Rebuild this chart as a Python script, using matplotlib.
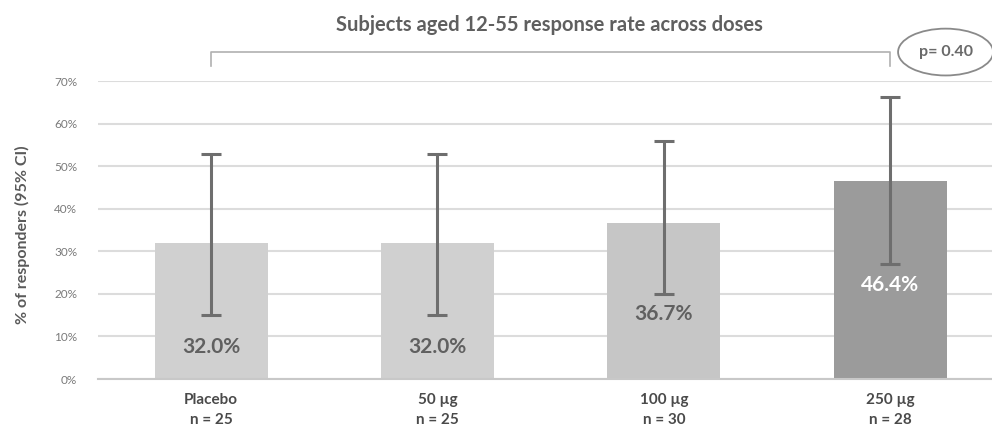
import matplotlib
matplotlib.use("Agg")
import matplotlib.pyplot as plt
from matplotlib.patches import Ellipse

categories = ["Placebo", "50 µg", "100 µg", "250 µg"]
n_labels = ["n = 25", "n = 25", "n = 30", "n = 28"]
rates = [32.0, 32.0, 36.7, 46.4]
ci_low = [15.1, 15.1, 20.0, 27.0]
ci_high = [52.8, 52.8, 55.9, 66.2]
label_y = [7.4, 7.4, 15.3, 22.0]
bar_colors = ["#d0d0d0", "#d0d0d0", "#c6c6c6", "#9b9b9b"]
label_colors = ["#606060", "#606060", "#606060", "#ffffff"]
yticks = [0, 10, 20, 30, 40, 50, 60, 70]
p_text = "p= 0.40"
title = "Subjects aged 12-55 response rate across doses"

plt.rcParams['font.family'] = ['Lato', 'DejaVu Sans']

fig = plt.figure(figsize=(9.92, 4.36), dpi=100)
ax = fig.add_axes([98/992, 57/436, 1 - 98/992, 298/436])

x = list(range(len(categories)))
ax.bar(x, rates, width=0.5, color=bar_colors, zorder=2)
for i in x:
    lo = rates[i] - ci_low[i]
    hi = ci_high[i] - rates[i]
    ax.errorbar(i, rates[i], yerr=[[lo], [hi]], fmt='none', ecolor='#6e6e6e',
                elinewidth=2.2, capsize=7, capthick=2.2, zorder=3)
    ax.text(i, label_y[i], f"{rates[i]:.1f}%", ha='center', va='center',
            fontsize=15, color=label_colors[i], fontweight='bold', zorder=4)

ax.set_xlim(-0.5, 3.45)
ax.set_ylim(0, 70)
ax.set_yticks(yticks)
ax.set_yticklabels([f"{t}%" for t in yticks], fontsize=8.5, color='#7a7a7a')
ax.yaxis.grid(True, color='#dcdcdc', linewidth=1.5, zorder=0)
ax.set_axisbelow(True)
for s in ['top', 'right', 'left']:
    ax.spines[s].set_visible(False)
ax.spines['bottom'].set_color('#c8c8c8')
ax.spines['bottom'].set_linewidth(1.5)
ax.tick_params(axis='y', length=0, pad=15)
ax.tick_params(axis='x', length=0, pad=10)
ax.set_xticks(x)
ax.set_xticklabels([f"{c}\n{n}" for c, n in zip(categories, n_labels)],
                   fontsize=11, color='#4a4a4a', fontweight='bold', linespacing=1.6)
ax.set_ylabel("% of responders (95% CI)", fontsize=11.5, color='#5a5a5a',
              fontweight='bold')
# place y label (right edge) at pixel x=30, centre y=235
ax.yaxis.set_label_coords((30 - 98) / 894, (379 - 235) / 298)

# bracket
yb, yt = 76.8, 73.5
ax.plot([0, 0, 3, 3], [yt, yb, yb, yt], color='#b0b0b0', lw=1.2, clip_on=False)
ell = Ellipse((3.245, 76.8), 0.42, 11, transform=ax.transData, fill=False,
              edgecolor='#8a8a8a', lw=1.3, clip_on=False)
ax.add_patch(ell)
ax.text(3.245, 76.8, p_text, ha='center', va='center', fontsize=11.5,
        color='#6a6a6a', fontweight='bold', clip_on=False)

fig.text(549/992, 1 - 25/436, title, ha='center', va='center', fontsize=14.5,
         color='#5f5f5f', fontweight='bold')

fig.savefig("out.png", dpi=100)
